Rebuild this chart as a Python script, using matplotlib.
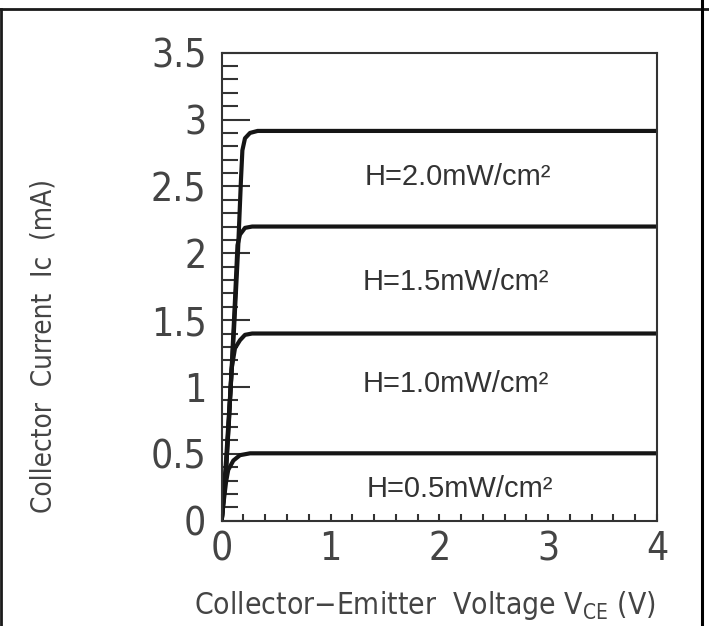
import matplotlib
matplotlib.use("Agg")
import matplotlib.pyplot as plt
from matplotlib.ticker import MultipleLocator
from matplotlib.lines import Line2D

plt.rcParams['font.family'] = ['DejaVu Sans']
plt.rcParams['font.stretch'] = 'condensed'
plt.rcParams['mathtext.fontset'] = 'custom'
plt.rcParams['mathtext.rm'] = 'DejaVu Sans:stretch=condensed'

# Curvas Ic vs Vce para cada irradiancia
vce_20 = [0.0, 0.04, 0.076, 0.113, 0.15, 0.177, 0.19, 0.214, 0.26, 0.33, 4.0]
ic_20 = [0.0, 0.38, 0.90, 1.43, 2.02, 2.55, 2.77, 2.86, 2.90, 2.915, 2.915]

vce_15 = [0.0, 0.04, 0.086, 0.122, 0.145, 0.168, 0.214, 0.28, 4.0]
ic_15 = [0.0, 0.45, 1.05, 1.65, 2.06, 2.14, 2.19, 2.20, 2.20]

vce_10 = [0.0, 0.04, 0.067, 0.09, 0.122, 0.168, 0.214, 0.28, 4.0]
ic_10 = [0.0, 0.38, 0.75, 1.13, 1.29, 1.35, 1.39, 1.40, 1.40]

vce_05 = [0.0, 0.02, 0.04, 0.06, 0.107, 0.168, 0.26, 4.0]
ic_05 = [0.0, 0.155, 0.29, 0.38, 0.45, 0.49, 0.504, 0.504]

curve_labels = ['H=2.0mW/cm²', 'H=1.5mW/cm²', 'H=1.0mW/cm²', 'H=0.5mW/cm²']
label_x = [2.17, 2.15, 2.15, 2.19]
label_y = [2.51, 1.724, 0.962, 0.177]

x_ticks = [0, 1, 2, 3, 4]
y_ticks = [0, 0.5, 1, 1.5, 2, 2.5, 3, 3.5]
y_tick_labels = ['0', '0.5', '1', '1.5', '2', '2.5', '3', '3.5']

fig = plt.figure(figsize=(7.09, 6.26), dpi=100)
ax = fig.add_axes([0.3127, 0.1682, 0.6140, 0.7476])

for xs, ys in [(vce_20, ic_20), (vce_15, ic_15), (vce_10, ic_10), (vce_05, ic_05)]:
    ax.plot(xs, ys, color='#151515', lw=3.0, solid_joinstyle='round', solid_capstyle='butt')

for txt, lx, ly in zip(curve_labels, label_x, label_y):
    ax.text(lx, ly, txt, ha='center', va='baseline', fontsize=21,
            color='#333333', family=['Liberation Sans', 'DejaVu Sans'], stretch='normal')

ax.set_xlim(0, 4)
ax.set_ylim(0, 3.5)
ax.set_xticks(x_ticks)
ax.set_xticklabels([str(v) for v in x_ticks])
ax.set_yticks(y_ticks)
ax.set_yticklabels(y_tick_labels)
ax.xaxis.set_minor_locator(MultipleLocator(0.2))
ax.yaxis.set_minor_locator(MultipleLocator(0.1))

ax.tick_params(axis='both', which='both', direction='in', colors='#333333',
               labelcolor='#444444', labelsize=28, width=1.5)
ax.tick_params(axis='y', which='major', length=20, pad=11)
ax.tick_params(axis='y', which='minor', length=11.5)
ax.tick_params(axis='x', which='both', length=5, pad=7)

for s in ax.spines.values():
    s.set_linewidth(1.5)
    s.set_color('#333333')

fig.text(425 / 709, 1 - 606 / 626, 'Collector$-$Emitter  Voltage V$_{\\mathregular{CE}}$ (V)',
         ha='center', va='center', fontsize=21.5, color='#444444')
fig.text(44 / 709, 1 - 346 / 626, 'Collector  Current  Ic  (mA)', rotation=90,
         ha='center', va='center', fontsize=20, color='#444444')

# Marco exterior de la imagen
fig.add_artist(Line2D([0, 1], [1 - 8.5 / 626] * 2, transform=fig.transFigure, color='#1a1a1a', lw=2))
fig.add_artist(Line2D([1 / 709] * 2, [0, 1 - 8.5 / 626], transform=fig.transFigure, color='#1a1a1a', lw=2))
fig.add_artist(Line2D([701.5 / 709] * 2, [0, 1], transform=fig.transFigure, color='#000000', lw=2.2))

fig.savefig('out.png', dpi=100)
